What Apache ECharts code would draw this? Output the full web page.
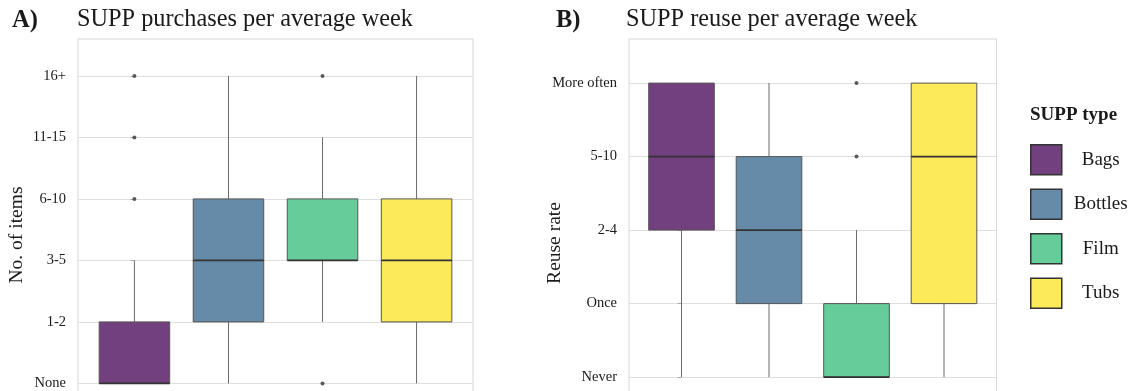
<!DOCTYPE html>
<html>
<head>
<meta charset="utf-8">
<script src="https://cdn.jsdelivr.net/npm/echarts@6/dist/echarts.min.js"></script>
<style>
  html, body { margin: 0; padding: 0; background: #fff; }
  #chart { width: 1134px; height: 391px; }
</style>
</head>
<body>
<div id="chart"></div>
<script>
// SUPP types, one box per type in each panel
const categories = ['Bags', 'Bottles', 'Film', 'Tubs'];

// y tick labels (ordinal answer scales)
const purchaseLabels = ['None', '1-2', '3-5', '6-10', '11-15', '16+'];
const reuseLabels = ['Never', 'Once', '2-4', '5-10', 'More often'];

// [min, q1, median, q3, max] as scale index
const purchaseStats = [
  [0, 0, 0, 1, 2],
  [0, 1, 2, 3, 5],
  [1, 2, 2, 3, 4],
  [0, 1, 2, 3, 5]
];
const reuseStats = [
  [0, 2, 3, 4, 4],
  [0, 1, 2, 3, 4],
  [0, 0, 0, 1, 2],
  [0, 1, 3, 4, 4]
];

// outliers: [type index, scale index]
const purchaseOutliers = [[0, 3], [0, 4], [0, 5], [2, 5], [2, 0]];
const reuseOutliers = [[2, 3], [2, 4]];

const palette = ['#72407f', '#658ba8', '#66cc99', '#fdea5b'];

const serif = 'Liberation Serif';
const ink = '#1a1a1a';

const chart = echarts.init(document.getElementById('chart'), null, { renderer: 'canvas' });

function renderBox(params, api) {
  const x = api.value(0);
  const lo = api.coord([x, api.value(1)]);
  const q1 = api.coord([x, api.value(2)]);
  const md = api.coord([x, api.value(3)]);
  const q3 = api.coord([x, api.value(4)]);
  const hi = api.coord([x, api.value(5)]);
  const w = api.size([0.75, 0])[0];
  const color = api.visual('color');
  const children = [];
  if (lo[1] > q1[1]) {
    children.push({ type: 'line', shape: { x1: lo[0], y1: lo[1], x2: q1[0], y2: q1[1] },
      style: { stroke: '#6a6a6a', lineWidth: 1 } });
  }
  if (hi[1] < q3[1]) {
    children.push({ type: 'line', shape: { x1: hi[0], y1: hi[1], x2: q3[0], y2: q3[1] },
      style: { stroke: '#6a6a6a', lineWidth: 1 } });
  }
  children.push({ type: 'rect', shape: { x: q1[0] - w / 2, y: q3[1], width: w, height: q1[1] - q3[1] },
    style: { fill: color, stroke: '#555', lineWidth: 1 } });
  children.push({ type: 'line', shape: { x1: md[0] - w / 2, y1: md[1], x2: md[0] + w / 2, y2: md[1] },
    style: { stroke: '#333', lineWidth: 1.6 } });
  return { type: 'group', children: children };
}

function yAxisFor(gridIndex, labels) {
  const ticks = labels.map((_, i) => i);
  return {
    type: 'value',
    gridIndex: gridIndex,
    min: -0.6,
    max: labels.length - 0.4,
    axisLine: { show: false },
    axisTick: { show: true, customValues: ticks, length: 4, lineStyle: { color: '#aaa' } },
    axisLabel: {
      customValues: ticks,
      formatter: v => labels[Math.round(v)],
      color: ink, fontFamily: serif, fontSize: 14.5, margin: 12
    },
    splitLine: { show: true, lineStyle: { color: '#dedede', width: 1 } }
  };
}

function xAxisFor(gridIndex) {
  return {
    type: 'value', gridIndex: gridIndex, min: -0.6, max: 3.6,
    axisLine: { show: false }, axisTick: { show: false },
    axisLabel: { show: false }, splitLine: { show: false }
  };
}

const series = [];
[purchaseStats, reuseStats].forEach((stats, panel) => {
  stats.forEach((s, i) => {
    series.push({
      type: 'custom',
      name: categories[i],
      xAxisIndex: panel,
      yAxisIndex: panel,
      itemStyle: { color: palette[i] },
      encode: { x: 0, y: [1, 2, 3, 4, 5] },
      renderItem: renderBox,
      data: [[i].concat(s)],
      z: 2
    });
  });
});
[purchaseOutliers, reuseOutliers].forEach((pts, panel) => {
  series.push({
    type: 'scatter',
    xAxisIndex: panel,
    yAxisIndex: panel,
    symbolSize: 4,
    itemStyle: { color: '#333' },
    data: pts,
    z: 3
  });
});

chart.setOption({
  animation: false,
  backgroundColor: '#fff',
  title: [
    { text: 'A)', left: 12, top: 8, padding: 0,
      textStyle: { fontFamily: serif, fontSize: 24.5, fontWeight: 'bold', color: ink } },
    { text: 'SUPP purchases per average week', left: 77, top: 8, padding: 0,
      textStyle: { fontFamily: serif, fontSize: 24.3, fontWeight: 'normal', color: ink } },
    { text: 'B)', left: 556, top: 8, padding: 0,
      textStyle: { fontFamily: serif, fontSize: 24.5, fontWeight: 'bold', color: ink } },
    { text: 'SUPP reuse per average week', left: 626, top: 8, padding: 0,
      textStyle: { fontFamily: serif, fontSize: 24.3, fontWeight: 'normal', color: ink } },
    { text: 'SUPP type', left: 1030, top: 106, padding: 0,
      textStyle: { fontFamily: serif, fontSize: 19, fontWeight: 'bold', color: ink } }
  ],
  graphic: [
    { type: 'text', x: 17, y: 235, rotation: Math.PI / 2,
      style: { text: 'No. of items', fontFamily: serif, fontSize: 19.5, fill: ink,
        align: 'center', verticalAlign: 'middle' } },
    { type: 'text', x: 555, y: 243, rotation: Math.PI / 2,
      style: { text: 'Reuse rate', fontFamily: serif, fontSize: 19.5, fill: ink,
        align: 'center', verticalAlign: 'middle' } }
  ],
  legend: {
    data: categories,
    orient: 'vertical',
    left: 1030,
    top: 144,
    padding: 0,
    itemWidth: 31,
    itemHeight: 30,
    itemGap: 13,
    icon: 'rect',
    itemStyle: { borderColor: '#333', borderWidth: 1.5 },
    formatter: '{c|{name}}',
    textStyle: {
      fontFamily: serif, fontSize: 19, color: ink,
      rich: { c: { width: 68, align: 'center', fontFamily: serif, fontSize: 19, color: ink } }
    }
  },
  grid: [
    { left: 78, top: 39, width: 395, height: 381.3, show: true, borderColor: '#d6d6d6', borderWidth: 1,
      outerBoundsMode: 'none', containLabel: false },
    { left: 629, top: 39, width: 367.5, height: 382.2, show: true, borderColor: '#d6d6d6', borderWidth: 1,
      outerBoundsMode: 'none', containLabel: false }
  ],
  xAxis: [xAxisFor(0), xAxisFor(1)],
  yAxis: [yAxisFor(0, purchaseLabels), yAxisFor(1, reuseLabels)],
  series: series
});
</script>
</body>
</html>
